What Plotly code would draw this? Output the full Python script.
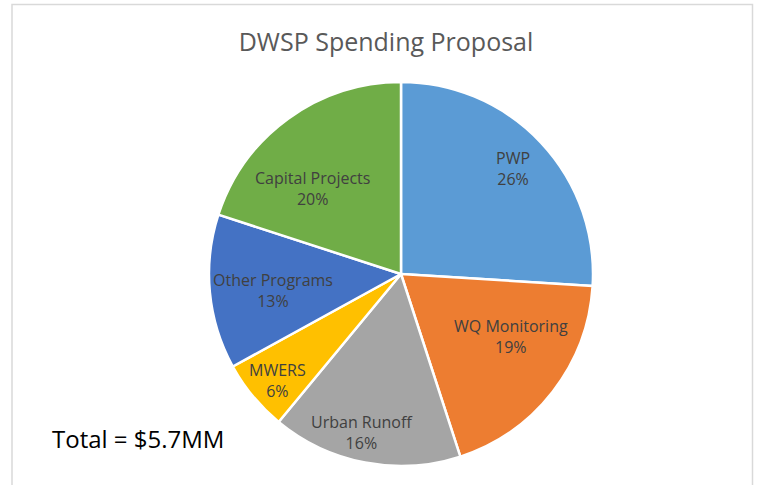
import math
import plotly.graph_objects as go

W, H = 764, 485

categories = ["PWP", "WQ Monitoring", "Urban Runoff", "MWERS", "Other Programs", "Capital Projects"]
shares = [26, 19, 16, 6, 13, 20]
colors = ["#5B9BD5", "#ED7D31", "#A5A5A5", "#FFC000", "#4472C4", "#70AD47"]
title_text = "DWSP Spending Proposal"
total_text = "Total = $5.7MM"

# label placement (fraction of radius, angular shift in degrees) -- Excel "best fit" style
label_radius = [0.80, 0.66, 0.85, 0.85, 0.67, 0.64]
label_shift = [0, -8, 3, -1, -2, -10]

FONT = "Open Sans, Liberation Sans, sans-serif"

dom_x = [209 / W, 593 / W]
dom_y = [19 / H, 403 / H]

fig = go.Figure(go.Pie(
    labels=categories,
    values=shares,
    sort=False,
    direction="clockwise",
    rotation=0,
    marker=dict(colors=colors, line=dict(color="white", width=2.5)),
    textinfo="none",
    hoverinfo="label+percent",
    domain=dict(x=dom_x, y=dom_y),
    showlegend=False,
))

# data labels derived from the slice angles
cx = (dom_x[0] + dom_x[1]) / 2 * W
cy = (1 - (dom_y[0] + dom_y[1]) / 2) * H
R = (dom_x[1] - dom_x[0]) / 2 * W
total = sum(shares)
annotations = []
cum = 0
for lab, v, rf, sh in zip(categories, shares, label_radius, label_shift):
    mid = (cum + v / 2) / total * 360 + sh
    cum += v
    px = cx + rf * R * math.sin(math.radians(mid))
    py = cy - rf * R * math.cos(math.radians(mid))
    annotations.append(dict(
        text=f"{lab}<br>{round(v / total * 100)}%", x=px / W, y=1 - py / H,
        xref="paper", yref="paper", xanchor="center", yanchor="middle", showarrow=False,
        align="center", font=dict(family=FONT, size=16, color="#404040")))

annotations.append(dict(text=total_text, x=50 / W, y=1 - 438 / H, xref="paper", yref="paper",
                        xanchor="left", yanchor="middle", showarrow=False,
                        font=dict(family=FONT, size=24, color="#000000")))

fig.update_layout(
    width=W, height=H,
    margin=dict(l=0, r=0, t=0, b=0),
    paper_bgcolor="white",
    plot_bgcolor="white",
    title=dict(text=title_text, x=386 / W, xanchor="center", y=1 - 42 / H, yanchor="middle",
               font=dict(family=FONT, size=25, color="#595959")),
    annotations=annotations,
    shapes=[dict(type="rect", xref="paper", yref="paper", x0=12 / W, x1=752.5 / W, y0=-0.1, y1=1 - 4.5 / H,
                 line=dict(color="#D9D9D9", width=1.5), fillcolor="rgba(0,0,0,0)", layer="below")],
)

fig.write_html("out.html", config={"displayModeBar": False},
               post_script="document.body.style.margin='0px';")
